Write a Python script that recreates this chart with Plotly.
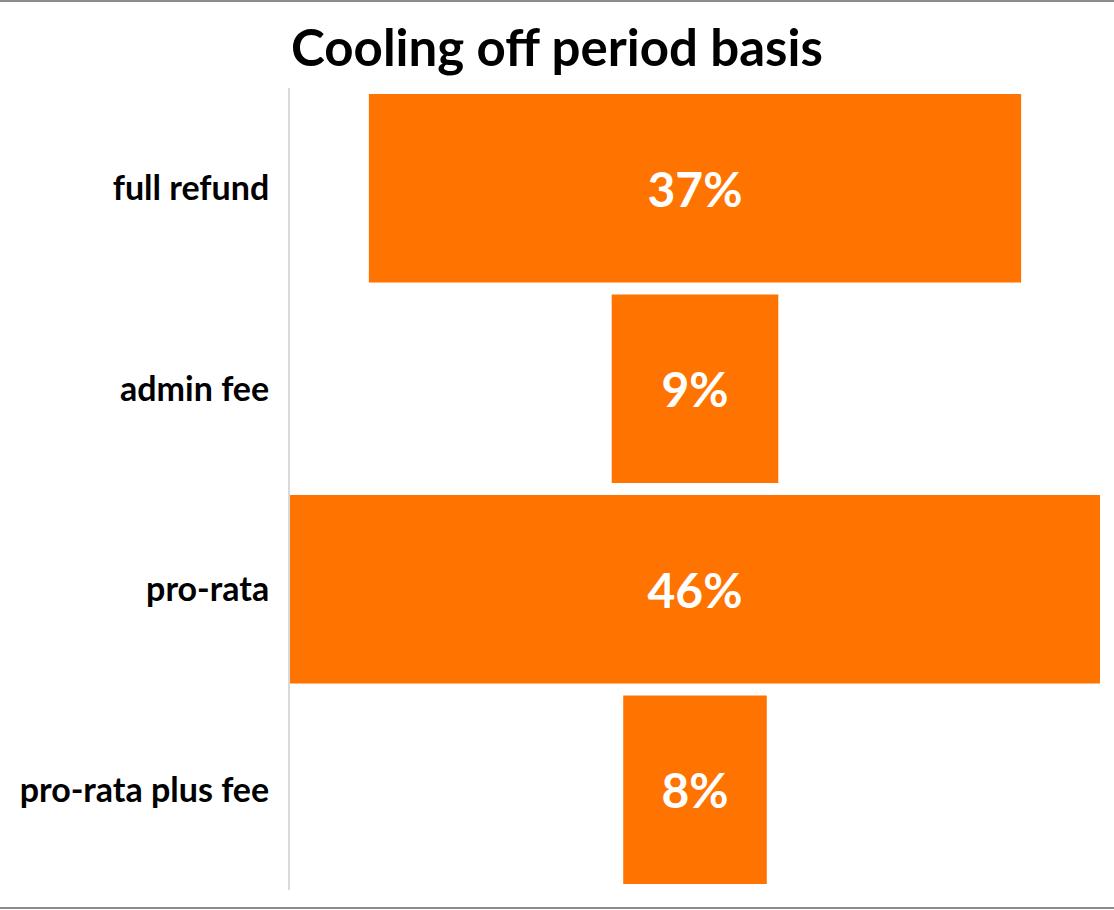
import plotly.graph_objects as go

categories = ["full refund", "admin fee", "pro-rata", "pro-rata plus fee"]
shares = [36.8, 9.4, 45.7, 8.1]

W, H = 1114, 910
ML, MR, MT, MB = 290, 14, 88, 20

fig = go.Figure(go.Funnel(
    y=categories,
    x=shares,
    marker=dict(color="#FF7300", line=dict(width=0)),
    connector=dict(visible=False),
    texttemplate="%{x:.0f}%",
    textposition="inside",
    insidetextanchor="middle",
    textfont=dict(family="Lato", size=48, color="white", weight="bold"),
    hoverinfo="skip",
))

half = max(shares) / 2
pw = W - ML - MR
ph = H - MT - MB

fig.update_layout(
    width=W, height=H,
    margin=dict(l=ML, r=MR, t=MT, b=MB, pad=0),
    paper_bgcolor="white", plot_bgcolor="white",
    funnelgap=0.06,
    showlegend=False,
    title=dict(text="Cooling off period basis", x=0.5, xanchor="center",
               y=1 - 48 / H, yanchor="middle",
               font=dict(family="Lato", size=51, color="black", weight="bold")),
    xaxis=dict(visible=False, range=[-half, half], fixedrange=True),
    yaxis=dict(showline=True, linecolor="#d9d9d9", linewidth=2,
               showgrid=False, zeroline=False, ticks="",
               ticklabelstandoff=12,
               tickfont=dict(family="Lato", size=34, color="black", weight="bold")),
    shapes=[
        dict(type="line", xref="paper", yref="paper",
             x0=-ML / pw, x1=1 + MR / pw, y0=1 + (MT - 1) / ph, y1=1 + (MT - 1) / ph,
             line=dict(color="#8c8c8c", width=2)),
        dict(type="line", xref="paper", yref="paper",
             x0=-ML / pw, x1=1 + MR / pw, y0=-(MB - 2) / ph, y1=-(MB - 2) / ph,
             line=dict(color="#8c8c8c", width=2)),
    ],
)

fig.write_html("out.html", config={"displayModeBar": False},
               post_script="document.body.style.margin='0';")
